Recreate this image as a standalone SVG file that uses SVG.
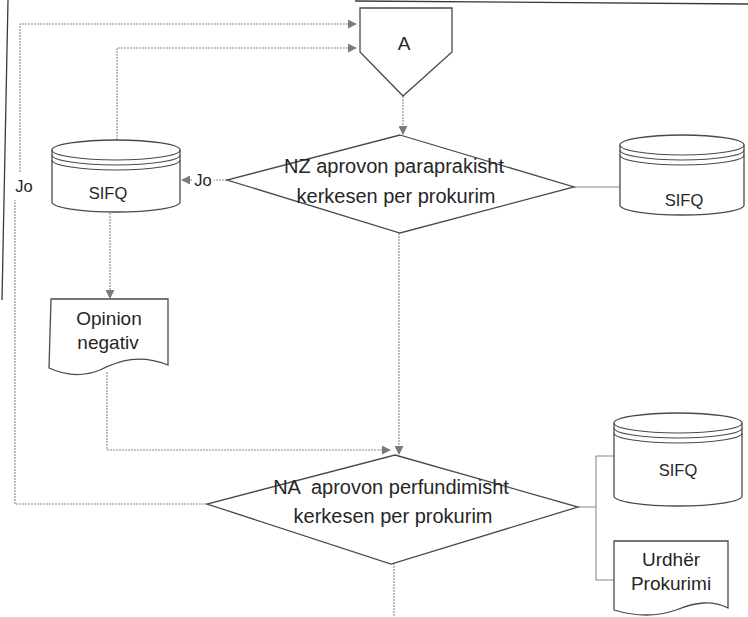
<svg xmlns="http://www.w3.org/2000/svg" width="748" height="617" viewBox="0 0 748 617">
  <style>
    .shape { fill: #ffffff; stroke: #4a4a4a; stroke-width: 1.3; }
    .ring { fill: none; stroke: #4a4a4a; stroke-width: 1.1; }
    .conn { fill: none; stroke: #8a8a8a; stroke-width: 1.1; stroke-dasharray: 2 1; }
    .solid { fill: none; stroke: #8a8a8a; stroke-width: 1.1; }
    .frame { fill: none; stroke: #3a3a3a; stroke-width: 1.3; }
    text { font-family: "Liberation Sans", Arial, sans-serif; fill: #262626; text-anchor: middle; }
    .t20 { font-size: 20px; }
    .t19 { font-size: 19px; }
    .t16 { font-size: 16.5px; }
  </style>
  <defs>
    <marker id="arrow" viewBox="0 0 10 10" refX="9" refY="5" markerWidth="9" markerHeight="9" markerUnits="userSpaceOnUse" orient="auto">
      <path d="M0,0 L10,5 L0,10 z" fill="#7a7a7a"/>
    </marker>
  </defs>

  <rect width="748" height="617" fill="#ffffff"/>

  <!-- page frame edges -->
  <path class="frame" d="M8,0 L2,300"/>
  <path class="frame" d="M355,1 L748,4"/>

  <g id="connectors">
    <!-- loop back from NA decision to A -->
    <path class="conn" d="M207,504 H15 V200"/>
    <path class="conn" d="M20,172 V24 H356" marker-end="url(#arrow)"/>
    <!-- from left SIFQ back to A -->
    <path class="conn" d="M117,140 V48 H356" marker-end="url(#arrow)"/>
    <!-- A to NZ decision -->
    <path class="conn" d="M403,96 V134" marker-end="url(#arrow)"/>
    <!-- NZ "Jo" branch -->
    <path class="conn" d="M227,180 H214"/>
    <path class="conn" d="M192,180 H182" marker-end="url(#arrow)"/>
    <!-- NZ to right SIFQ -->
    <path class="solid" d="M574,187 H620"/>
    <!-- left SIFQ to Opinion negativ -->
    <path class="conn" d="M110,213 V298" marker-end="url(#arrow)"/>
    <!-- Opinion negativ to NA decision -->
    <path class="conn" d="M107,372 V450 H390" marker-end="url(#arrow)"/>
    <!-- NZ to NA decision -->
    <path class="conn" d="M399,233 V454" marker-end="url(#arrow)"/>
    <!-- NA outputs -->
    <path class="solid" d="M578,507 H596 M614,456 H596 V580 H614"/>
    <!-- NA onwards -->
    <path class="conn" d="M394,563 V617"/>
  </g>

  <g id="node-a">
    <path class="shape" d="M360,8 H452 V52 L403,96 L360,52 Z"/>
    <text class="t19" x="404" y="50">A</text>
  </g>

  <g id="node-nz">
    <path class="shape" d="M400,135 L574,187 L400,233 L227,180 Z"/>
    <text class="t20" x="394" y="173">NZ aprovon paraprakisht</text>
    <text class="t20" x="396" y="203">kerkesen per prokurim</text>
  </g>

  <g id="label-jo-nz">
    <text class="t16" x="203" y="186">Jo</text>
  </g>

  <g id="label-jo-na">
    <text class="t16" x="24" y="192">Jo</text>
  </g>

  <g id="node-sifq-left">
    <path class="shape" d="M52,150 V202 A64,10 0 0 0 180,202 V150 A64,10 0 0 0 52,150 Z"/>
    <path class="ring" d="M52,150 A64,10 0 0 0 180,150 M52,155 A64,10 0 0 0 180,155 M52,160 A64,10 0 0 0 180,160"/>
    <text class="t16" x="108" y="199">SIFQ</text>
  </g>

  <g id="node-sifq-right">
    <path class="shape" d="M620,145 V205 A62,10 0 0 0 744,205 V145 A62,10 0 0 0 620,145 Z"/>
    <path class="ring" d="M620,145 A62,10 0 0 0 744,145 M620,150 A62,10 0 0 0 744,150 M620,155 A62,10 0 0 0 744,155"/>
    <text class="t16" x="684" y="206">SIFQ</text>
  </g>

  <g id="node-opinion">
    <path class="shape" d="M51,299 H168 V365 C140,354 120,360 100,370 C80,378 62,374 49,368 Z"/>
    <text class="t19" x="109" y="325">Opinion</text>
    <text class="t19" x="108" y="349">negativ</text>
  </g>

  <g id="node-na">
    <path class="shape" d="M395,455 L578,507 L391,564 L207,504 Z"/>
    <text class="t20" x="391" y="494" xml:space="preserve">NA  aprovon perfundimisht</text>
    <text class="t20" x="393" y="523">kerkesen per prokurim</text>
  </g>

  <g id="node-sifq-bottom">
    <path class="shape" d="M614,423 V496 A64,10 0 0 0 742,496 V423 A64,10 0 0 0 614,423 Z"/>
    <path class="ring" d="M614,423 A64,10 0 0 0 742,423 M614,428 A64,10 0 0 0 742,428 M614,433 A64,10 0 0 0 742,433"/>
    <text class="t16" x="678" y="476">SIFQ</text>
  </g>

  <g id="node-urdher">
    <path class="shape" d="M614,541 H728 V608 C712,600 696,602 676,610 C656,617 634,616 614,610 Z"/>
    <text class="t19" x="671" y="566">Urdhër</text>
    <text class="t19" x="671" y="590">Prokurimi</text>
  </g>
</svg>
